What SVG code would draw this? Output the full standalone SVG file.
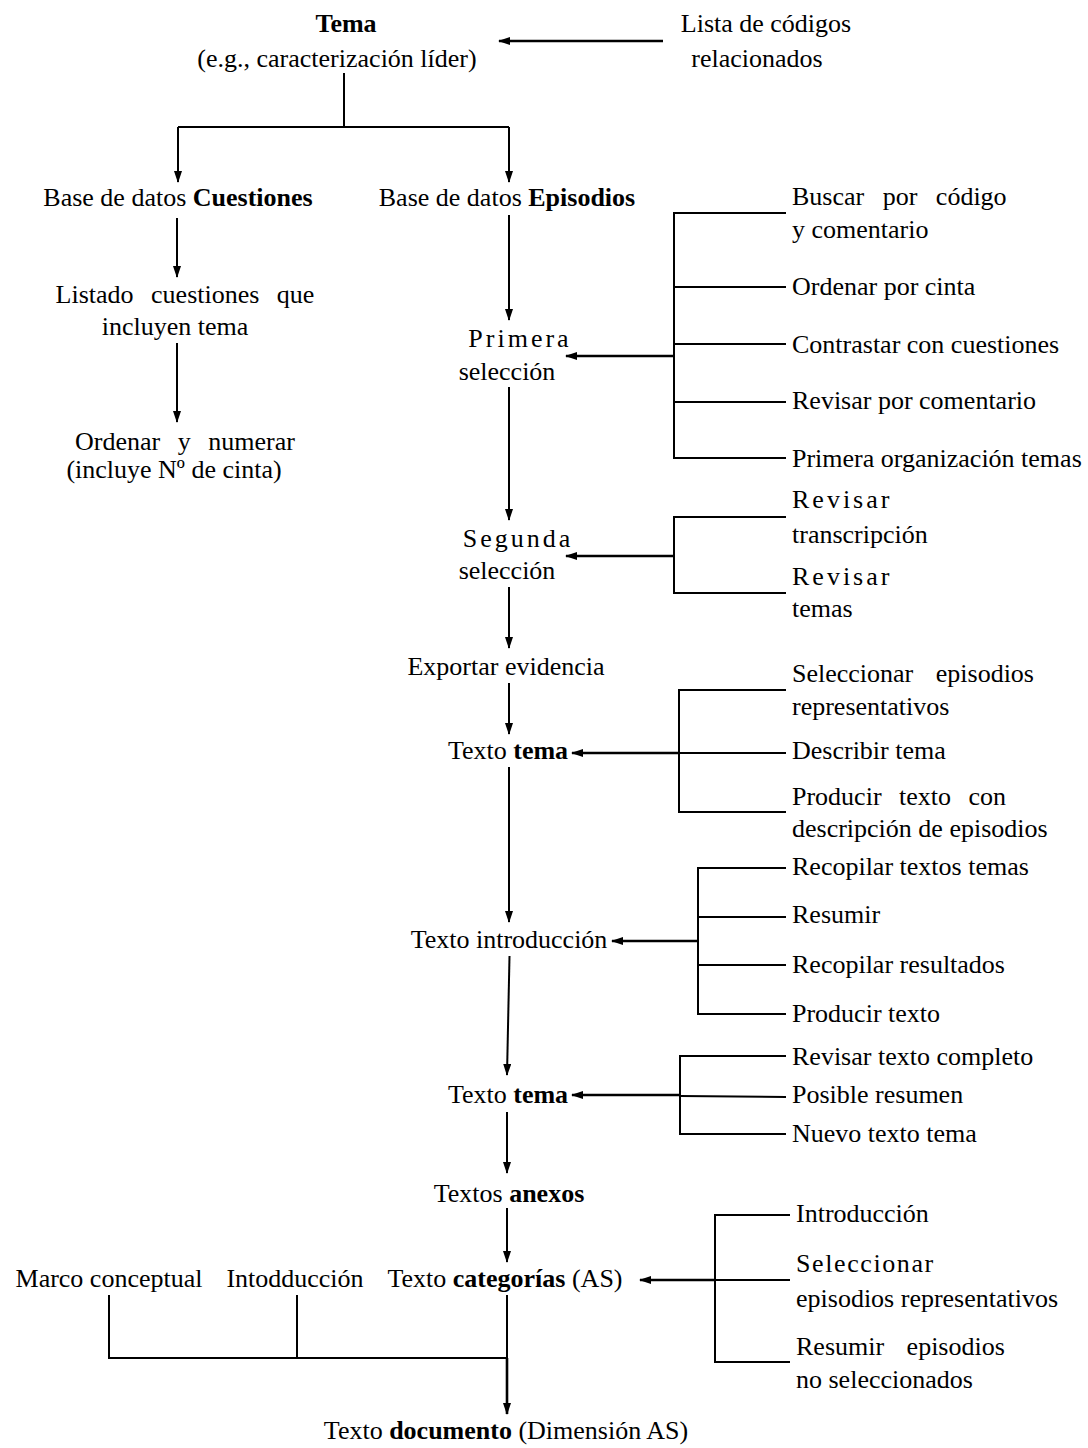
<svg xmlns="http://www.w3.org/2000/svg" width="1088" height="1448" viewBox="0 0 1088 1448">
<style>
text{font-family:"Liberation Serif","Times New Roman",serif;font-size:26px;fill:#000}
.c{text-anchor:middle}
.b{font-weight:bold}
.ls{letter-spacing:3px}
line,polyline,path.l{stroke:#000;stroke-width:2;fill:none}
.a{marker-end:url(#ah)}
.h{stroke-width:2.6}
</style>
<defs>
<marker id="ah" viewBox="0 0 12 8" refX="11" refY="4" markerWidth="12" markerHeight="8" markerUnits="userSpaceOnUse" orient="auto">
<path d="M0,0 L12,4 L0,8 Z" fill="#000"/>
</marker>
</defs>
<rect width="1088" height="1448" fill="#fff"/>

<g id="connectors">
<line class="a h" x1="663" y1="41" x2="499" y2="41"/>
<polyline points="344,73 344,127"/>
<polyline points="178,127 509,127"/>
<line class="a" x1="178" y1="127" x2="178" y2="182"/>
<line class="a" x1="509" y1="127" x2="509" y2="182"/>
<line class="a" x1="177" y1="218" x2="177" y2="277"/>
<line class="a" x1="177" y1="343" x2="177" y2="422"/>
<line class="a" x1="509" y1="215" x2="509" y2="320"/>
<polyline points="786,213 674,213 674,458 786,458"/>
<line x1="674" y1="287" x2="786" y2="287"/>
<line x1="674" y1="344" x2="786" y2="344"/>
<line x1="674" y1="402" x2="786" y2="402"/>
<line class="a h" x1="674" y1="356" x2="566" y2="356"/>
<line class="a" x1="509" y1="387" x2="509" y2="520"/>
<polyline points="786,517 674,517 674,593 786,593"/>
<line class="a h" x1="674" y1="556" x2="566" y2="556"/>
<line class="a" x1="509" y1="587" x2="509" y2="648"/>
<line class="a" x1="509" y1="683" x2="509" y2="734"/>
<polyline points="786,690 679,690 679,812 786,812"/>
<line x1="679" y1="753" x2="786" y2="753"/>
<line class="a h" x1="679" y1="753" x2="572" y2="753"/>
<line class="a" x1="509" y1="767" x2="509" y2="922"/>
<polyline points="786,868 698,868 698,1014 786,1014"/>
<line x1="698" y1="917" x2="786" y2="917"/>
<line x1="698" y1="965" x2="786" y2="965"/>
<line class="a h" x1="698" y1="941" x2="612" y2="941"/>
<line class="a" x1="509.5" y1="956" x2="507" y2="1075"/>
<polyline points="786,1056 680,1056 680,1134 786,1134"/>
<line x1="680" y1="1096" x2="786" y2="1097"/>
<line class="a h" x1="680" y1="1095" x2="572" y2="1095"/>
<line class="a" x1="507" y1="1112" x2="507" y2="1173"/>
<line class="a" x1="507" y1="1208" x2="507" y2="1262"/>
<polyline points="790,1215 715,1215 715,1362 790,1362"/>
<line x1="715" y1="1280" x2="790" y2="1280"/>
<line class="a h" x1="715" y1="1280" x2="640" y2="1280"/>
<polyline points="109,1295 109,1358 507,1358"/>
<line x1="297" y1="1295" x2="297" y2="1358"/>
<line x1="507" y1="1295" x2="507" y2="1358"/>
<line class="a h" x1="507" y1="1358" x2="507" y2="1414"/>
</g>

<g id="tema">
<text class="c b" x="346" y="32">Tema</text>
<text class="c" x="337" y="67">(e.g., caracterización líder)</text>
</g>
<g id="lista">
<text class="c" x="766" y="32">Lista de códigos</text>
<text class="c" x="757" y="67">relacionados</text>
</g>
<g id="bd-cuestiones"><text class="c" x="178" y="206">Base de datos <tspan class="b">Cuestiones</tspan></text></g>
<g id="bd-episodios"><text class="c" x="507" y="206">Base de datos <tspan class="b">Episodios</tspan></text></g>
<g id="listado">
<text class="c" x="185" y="303" word-spacing="11">Listado cuestiones que</text>
<text class="c" x="175" y="335">incluyen tema</text>
</g>
<g id="ordenar">
<text class="c" x="185" y="450" word-spacing="11">Ordenar y numerar</text>
<text class="c" x="174" y="478">(incluye Nº de cinta)</text>
</g>
<g id="primera">
<text class="c ls" x="520" y="347">Primera</text>
<text class="c" x="507" y="380">selección</text>
</g>
<g id="primera-tareas">
<text x="792" y="205" word-spacing="12">Buscar por código</text>
<text x="792" y="238">y comentario</text>
<text x="792" y="295">Ordenar por cinta</text>
<text x="792" y="353">Contrastar con cuestiones</text>
<text x="792" y="409">Revisar por comentario</text>
<text x="792" y="467">Primera organización temas</text>
</g>
<g id="segunda">
<text class="c ls" x="518" y="547">Segunda</text>
<text class="c" x="507" y="579">selección</text>
</g>
<g id="segunda-tareas">
<text class="ls" x="792" y="508">Revisar</text>
<text x="792" y="543">transcripción</text>
<text class="ls" x="792" y="585">Revisar</text>
<text x="792" y="617">temas</text>
</g>
<g id="exportar"><text class="c" x="506" y="675">Exportar evidencia</text></g>
<g id="texto-tema-1"><text class="c" x="508" y="759">Texto <tspan class="b">tema</tspan></text></g>
<g id="tema-tareas">
<text x="792" y="682" word-spacing="16">Seleccionar episodios</text>
<text x="792" y="715">representativos</text>
<text x="792" y="759">Describir tema</text>
<text x="792" y="805" word-spacing="11">Producir texto con</text>
<text x="792" y="837">descripción de episodios</text>
</g>
<g id="texto-introduccion"><text class="c" x="509" y="948">Texto introducción</text></g>
<g id="intro-tareas">
<text x="792" y="875">Recopilar textos temas</text>
<text x="792" y="923">Resumir</text>
<text x="792" y="973">Recopilar resultados</text>
<text x="792" y="1022">Producir texto</text>
</g>
<g id="texto-tema-2"><text class="c" x="508" y="1103">Texto <tspan class="b">tema</tspan></text></g>
<g id="tema2-tareas">
<text x="792" y="1065">Revisar texto completo</text>
<text x="792" y="1103">Posible resumen</text>
<text x="792" y="1142">Nuevo texto tema</text>
</g>
<g id="textos-anexos"><text class="c" x="509" y="1202">Textos <tspan class="b">anexos</tspan></text></g>
<g id="marco"><text class="c" x="109" y="1287">Marco conceptual</text></g>
<g id="intoduccion"><text class="c" x="295" y="1287">Intodducción</text></g>
<g id="texto-categorias"><text class="c" x="505" y="1287">Texto <tspan class="b">categorías</tspan> (AS)</text></g>
<g id="categorias-tareas">
<text x="796" y="1222">Introducción</text>
<text x="796" y="1272" letter-spacing="1.6">Seleccionar</text>
<text x="796" y="1307">episodios representativos</text>
<text x="796" y="1355" word-spacing="16">Resumir episodios</text>
<text x="796" y="1388">no seleccionados</text>
</g>
<g id="texto-documento"><text class="c" x="506" y="1439">Texto <tspan class="b">documento</tspan> (Dimensión AS)</text></g>
</svg>
